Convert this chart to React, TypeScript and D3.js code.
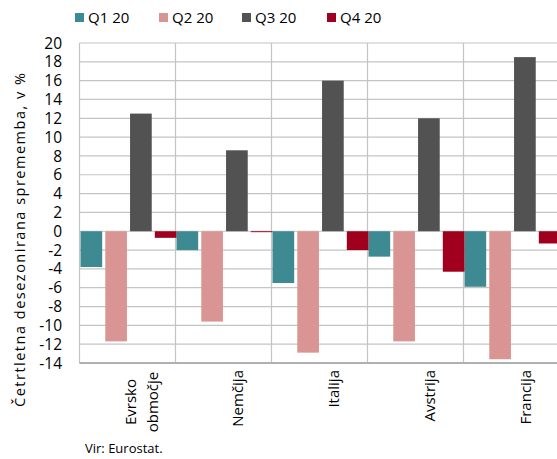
import React from "react";
import * as d3 from "d3";

const categories = [["Evrsko", "območje"], ["Nemčija"], ["Italija"], ["Avstrija"], ["Francija"]];
const seriesNames = ["Q1 20", "Q2 20", "Q3 20", "Q4 20"];
const q1 = [-3.8, -2.0, -5.5, -2.7, -5.9];
const q2 = [-11.7, -9.6, -12.9, -11.7, -13.6];
const q3 = [12.5, 8.6, 16.0, 12.0, 18.5];
const q4 = [-0.7, -0.1, -2.0, -4.3, -1.3];
const yTicks = d3.range(-14, 21, 2);
const colors = ["#3e8a92", "#d99594", "#525252", "#a0001e"];

export default function App() {
  const W = 557, H = 459;
  const left = 79.5, top = 43, bottom = 363, right = 559.5;
  const y = d3.scaleLinear().domain([-14, 20]).range([bottom, top]);
  const x0 = d3.scaleBand<number>().domain(d3.range(categories.length)).range([left, right]).padding(0);
  const x1 = d3.scaleBand<number>().domain(d3.range(4)).range([1, x0.bandwidth() + 1]).paddingInner(0.125).paddingOuter(0);
  const series = [q1, q2, q3, q4];
  const font = "'Open Sans', 'Noto Sans', sans-serif";
  const legendX = [75, 159, 242, 327];
  return (
    <svg width={W} height={H} style={{ position: "absolute", left: 0, top: 0 }} fontFamily={font}>
      <rect width={W} height={H} fill="#fff" />
      {yTicks.map((t) => (
        <line key={t} x1={left} x2={right} y1={y(t)} y2={y(t)} stroke="#c4c4c4" strokeWidth={1.2} />
      ))}
      {d3.range(categories.length + 1).map((i) => {
        const xx = i < categories.length ? x0(i)! : right;
        return <line key={i} x1={xx} x2={xx} y1={top} y2={bottom} stroke="#c4c4c4" strokeWidth={1.2} />;
      })}
      {series.map((vals, si) =>
        vals.map((v, ci) => {
          const bx = x0(ci)! + x1(si)!;
          const y0 = y(0), yv = y(v);
          return (
            <rect key={si + "-" + ci} x={bx} width={x1.bandwidth()} y={Math.min(y0, yv)} height={Math.max(Math.abs(yv - y0), 0.8)} fill={colors[si]} />
          );
        })
      )}
      <line x1={left} x2={right} y1={bottom} y2={bottom} stroke="#b0b0b0" strokeWidth={2} />
      {yTicks.map((t) => (
        <text key={t} x={62} y={y(t)} dy="0.36em" textAnchor="end" fontSize={15.5} fill="#000">{t}</text>
      ))}
      <text transform={`translate(25,240) rotate(-90)`} textAnchor="middle" fontSize={14.5} fill="#000" textLength={334} lengthAdjust="spacing">
        Četrtletna desezonirana  sprememba, v %
      </text>
      {categories.map((lines, i) => {
        const cx = x0(i)! + x0.bandwidth() / 2 + 13;
        if (lines.length === 1) {
          return (
            <text key={i} transform={`translate(${cx + 6},370) rotate(-90)`} textAnchor="end" fontSize={15} fill="#000">{lines[0]}</text>
          );
        }
        return (
          <g key={i}>
            {lines.map((l, li) => (
              <text key={li} transform={`translate(${cx + 6 + (li - (lines.length - 1) / 2) * 22},402) rotate(-90)`} textAnchor="middle" fontSize={15} fill="#000">{l}</text>
            ))}
          </g>
        );
      })}
      {seriesNames.map((n, i) => (
        <g key={n}>
          <rect x={legendX[i]} y={13} width={9} height={9} fill={colors[i]} />
          <text x={legendX[i] + 13} y={23} fontSize={15} fill="#000">{n}</text>
        </g>
      ))}
      <text x={85} y={453} fontSize={13} fill="#000">Vir: Eurostat.</text>
    </svg>
  );
}
